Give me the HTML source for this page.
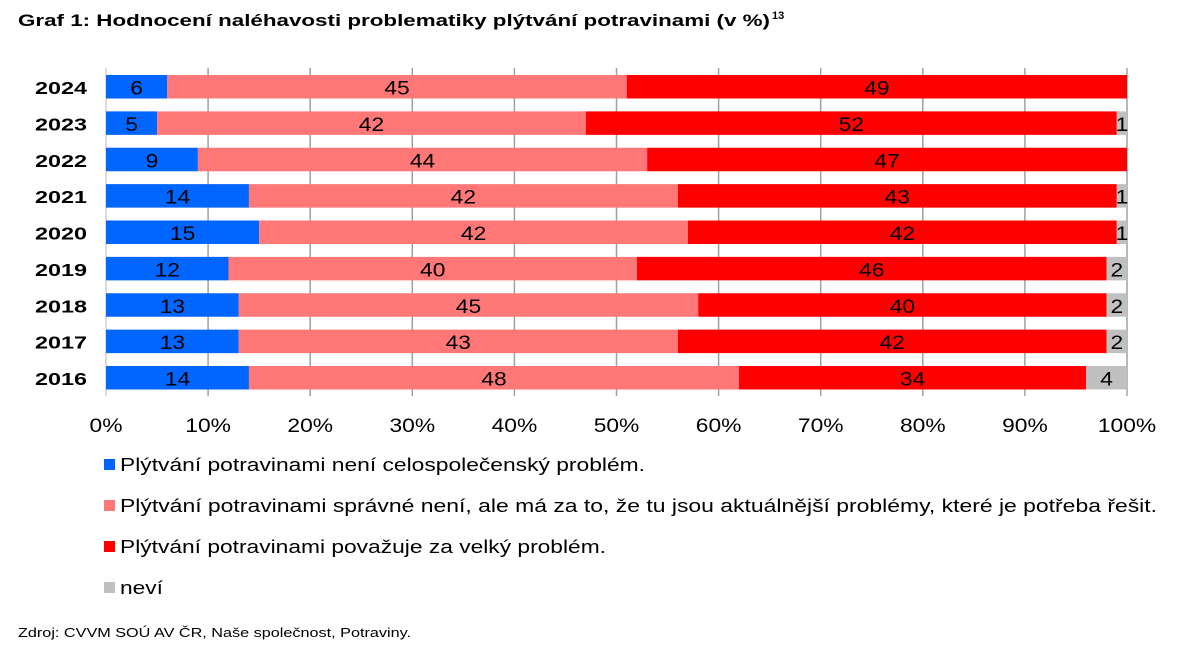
<!DOCTYPE html>
<html><head><meta charset="utf-8"><style>
body{margin:0;background:#fff;width:1179px;height:651px;overflow:hidden;font-family:"Liberation Sans",Arial,sans-serif}
</style></head><body>
<svg width="1179" height="651" xmlns="http://www.w3.org/2000/svg" font-family="Liberation Sans, Arial, sans-serif">
<text x="18" y="26" font-size="17" font-weight="bold" textLength="752" lengthAdjust="spacingAndGlyphs">Graf 1: Hodnocení naléhavosti problematiky plýtvání potravinami (v %)</text><text x="772" y="19" font-size="11" font-weight="bold">13</text>
<g stroke="#a0a0a0" stroke-width="1.5">
<line x1="208.1" y1="68" x2="208.1" y2="396"/><line x1="310.2" y1="68" x2="310.2" y2="396"/><line x1="412.3" y1="68" x2="412.3" y2="396"/><line x1="514.4" y1="68" x2="514.4" y2="396"/><line x1="616.5" y1="68" x2="616.5" y2="396"/><line x1="718.6" y1="68" x2="718.6" y2="396"/><line x1="820.7" y1="68" x2="820.7" y2="396"/><line x1="922.8" y1="68" x2="922.8" y2="396"/><line x1="1024.9" y1="68" x2="1024.9" y2="396"/><line x1="1127" y1="68" x2="1127" y2="396"/>
</g>
<line x1="106" y1="68" x2="106" y2="396" stroke="#d0d0d0" stroke-width="1.5"/>
<g id="bars"></g>
<g id="ticks" font-size="19" text-anchor="middle"></g>
<g font-size="18">
<rect x="104" y="459" width="11" height="11" fill="#0066ff"/><text x="120" y="471" textLength="525" lengthAdjust="spacingAndGlyphs">Plýtvání potravinami není celospolečenský problém.</text>
<rect x="104" y="500" width="11" height="11" fill="#ff7777"/><text x="120" y="512" textLength="1037" lengthAdjust="spacingAndGlyphs">Plýtvání potravinami správné není, ale má za to, že tu jsou aktuálnější problémy, které je potřeba řešit.</text>
<rect x="104" y="541" width="11" height="11" fill="#ff0000"/><text x="120" y="553" textLength="486" lengthAdjust="spacingAndGlyphs">Plýtvání potravinami považuje za velký problém.</text>
<rect x="104" y="582" width="11" height="11" fill="#c0c0c0"/><text x="120" y="594" textLength="43" lengthAdjust="spacingAndGlyphs">neví</text>
</g>
<text x="18" y="637" font-size="13" textLength="393" lengthAdjust="spacingAndGlyphs">Zdroj: CVVM SOÚ AV ČR, Naše společnost, Potraviny.</text>
</svg>
<script>
var d=[["2024",6,45,49,0],["2023",5,42,52,1],["2022",9,44,47,0],["2021",14,42,43,1],["2020",15,42,42,1],["2019",12,40,46,2],["2018",13,45,40,2],["2017",13,43,42,2],["2016",14,48,34,4]];
var c=["#0066ff","#ff7777","#ff0000","#c0c0c0"],s="";
function T(x,y,sx,attrs,txt){return '<text transform="translate('+x+','+y+') scale('+sx+',1)" '+attrs+'>'+txt+'</text>';}
d.forEach(function(r,i){var y=75+i*36.375,x=106;
s+=T(87,y+19,1.3,'font-size="18" font-weight="bold" text-anchor="end"',r[0]);
for(var k=1;k<5;k++){var w=r[k]*10.21;if(!w)continue;
s+='<rect x="'+x+'" y="'+y+'" width="'+w+'" height="23.5" fill="'+c[k-1]+'"/>';
s+=T(x+w/2,y+19.5,1.2,'font-size="19" text-anchor="middle"',r[k]);x+=w;}});
document.getElementById("bars").innerHTML=s;
var t="";for(var j=0;j<=10;j++)t+=T(106+j*102.1,432,1.2,'',(j*10)+'%');
document.getElementById("ticks").innerHTML=t;
</script>
</body></html>
